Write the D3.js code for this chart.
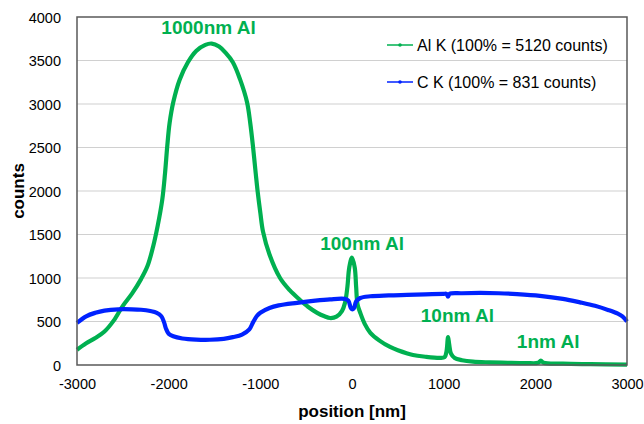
<!DOCTYPE html>
<html>
<head>
  <meta charset="utf-8" />
  <script src="https://cdn.jsdelivr.net/npm/d3@7"></script>
  <style>
  body { margin: 0; background: #fff; }
  text { font-family: "Liberation Sans", Arial, sans-serif; }
  .grid line { stroke: #d0d0d0; stroke-width: 1.2px; }
  .tick text { font-size: 14.5px; fill: #000; }
  .note { font-size: 19px; font-weight: bold; fill: #00b050; }
  </style>
</head>
<body>
  <svg width="644" height="424"></svg>
  <script>
  // position [nm] vs counts
  var alX = [-3000,-2900,-2800,-2700,-2600,-2500,-2400,-2300,-2230,-2170,-2120,-2070,-2040,-2015,-1990,-1950,-1880,-1790,-1700,-1600,-1530,-1450,-1380,-1300,-1220,-1145,-1110,-1080,-1050,-1030,-1000,-970,-900,-785,-680,-570,-480,-380,-300,-240,-170,-110,-75,-50,-30,0,30,45,60,90,140,200,300,415,500,666,800,960,1010,1030,1048,1060,1080,1120,1200,1320,1500,1700,1900,2030,2060,2090,2300,2600,3000]
  var alY = [175,250,310,385,510,680,820,990,1140,1360,1600,1900,2200,2520,2780,3020,3280,3480,3610,3680,3695,3660,3590,3480,3280,3020,2780,2510,2200,2000,1750,1530,1270,1000,860,750,670,600,560,540,555,620,720,900,1120,1235,1120,900,700,600,470,370,280,207,170,115,95,82,90,150,320,240,130,80,55,38,30,25,22,25,50,25,15,10,5]

  var cX = [-3000,-2900,-2800,-2700,-2550,-2400,-2300,-2200,-2130,-2080,-2050,-2030,-2000,-1950,-1850,-1700,-1550,-1400,-1300,-1200,-1120,-1080,-1040,-1000,-900,-800,-600,-400,-240,-80,-40,-15,0,20,45,90,200,400,600,800,1000,1030,1048,1065,1200,1400,1600,1800,2050,2300,2487,2650,2800,2900,2950,3000]
  var cY = [484,560,600,625,640,640,635,620,600,560,490,420,360,330,305,292,290,300,320,350,410,490,560,600,655,685,715,740,755,760,740,660,640,650,730,770,790,800,806,812,818,818,785,818,825,829,825,815,795,760,720,680,630,590,560,500]

  var xTicks = [-3000,-2000,-1000,0,1000,2000,3000]
  var yTicks = [0,500,1000,1500,2000,2500,3000,3500,4000]

  var series = [
    {name: "Al K (100% = 5120 counts)", color: "#00b050", xs: alX, ys: alY},
    {name: "C K (100% = 831 counts)", color: "#0022ff", xs: cX, ys: cY}
  ]
  var notes = [
    {text: "1000nm Al", x: -1565, y: 3800},
    {text: "100nm Al", x: 110, y: 1320},
    {text: "10nm Al", x: 1150, y: 490},
    {text: "1nm Al", x: 2140, y: 200}
  ]

  var svg = d3.select("svg")
  var margin = {left: 77, right: 17, top: 17, bottom: 59}
  var width = 644 - margin.left - margin.right,
      height = 424 - margin.top - margin.bottom

  var x = d3.scaleLinear().domain([-3000, 3000]).range([0, width])
  var y = d3.scaleLinear().domain([0, 4000]).range([height, 0])

  var g = svg.append("g").attr("transform", "translate(" + margin.left + "," + margin.top + ")")

  // horizontal gridlines
  g.append("g").attr("class", "grid")
    .selectAll("line")
    .data(yTicks.slice(1, -1))
    .enter().append("line")
    .attr("x1", 0).attr("x2", width)
    .attr("y1", d => y(d)).attr("y2", d => y(d))

  var yAxis = g.append("g")
    .call(d3.axisLeft(y).tickValues(yTicks).tickSize(0).tickPadding(16).tickFormat(d => String(d)))
  yAxis.select(".domain").remove()
  yAxis.selectAll("text").attr("dy", "0.35em")

  var xAxis = g.append("g")
    .attr("transform", "translate(0," + height + ")")
    .call(d3.axisBottom(x).tickValues(xTicks).tickSize(0).tickPadding(14).tickFormat(d => String(d)))
  xAxis.select(".domain").remove()

  // lines
  var line = d3.line()
    .x(d => x(d[0]))
    .y(d => y(d[1]))
    .curve(d3.curveCatmullRom.alpha(0.5))

  series.forEach(function(s) {
    g.append("path")
      .datum(d3.zip(s.xs, s.ys))
      .attr("fill", "none")
      .attr("stroke", s.color)
      .attr("stroke-width", 4.2)
      .attr("stroke-linejoin", "round")
      .attr("d", line)
  })

  // plot frame
  g.append("rect")
    .attr("width", width).attr("height", height)
    .attr("fill", "none")
    .attr("stroke", "#595959")
    .attr("stroke-width", 1.5)

  g.selectAll(".note")
    .data(notes)
    .enter().append("text")
    .attr("class", "note")
    .attr("text-anchor", "middle")
    .attr("x", d => x(d.x))
    .attr("y", d => y(d.y))
    .text(d => d.text)

  // legend
  var legend = g.selectAll(".legend")
    .data(series)
    .enter().append("g")
    .attr("transform", (d, i) => "translate(310," + (28 + i * 37) + ")")
  legend.append("line")
    .attr("x1", 0).attr("x2", 26)
    .attr("stroke", d => d.color).attr("stroke-width", 1.5)
  legend.append("circle")
    .attr("cx", 13).attr("r", 1.8)
    .attr("fill", d => d.color)
  legend.append("text")
    .attr("x", 30).attr("dy", "0.36em")
    .style("font-size", "16px")
    .text(d => d.name)

  // axis titles
  svg.append("text")
    .attr("transform", "translate(24," + (margin.top + height / 2) + ") rotate(-90)")
    .attr("text-anchor", "middle")
    .style("font-size", "17px").style("font-weight", "bold")
    .text("counts")
  svg.append("text")
    .attr("x", margin.left + width / 2).attr("y", 417)
    .attr("text-anchor", "middle")
    .style("font-size", "17px").style("font-weight", "bold")
    .text("position [nm]")
  </script>
</body>
</html>
